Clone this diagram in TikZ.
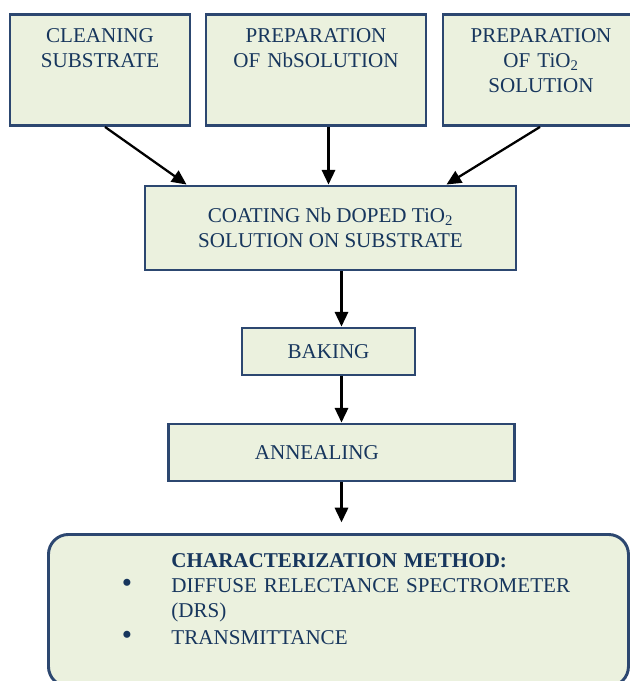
\documentclass[tikz,border=0pt]{standalone}
\usepackage{fontspec}
\setmainfont{Liberation Serif}
\usetikzlibrary{arrows.meta,calc}
\definecolor{boxfill}{HTML}{EBF1DE}
\definecolor{boxline}{HTML}{2C4770}
\definecolor{boxtext}{HTML}{17365D}

\tikzset{
  stepbox/.style={draw=boxline, line width=2.2pt, fill=boxfill, text=boxtext,
    font=\fontsize{15.8}{18.75}\selectfont, align=center, inner sep=0pt},
  topbox/.style={stepbox, anchor=north, inner ysep=4pt, text height=17pt, text depth=58.25pt},
  flow/.style={-{Triangle[length=11pt,width=10pt]}, line width=1.7pt}
}
\newcommand{\bigdot}{{\fontsize{22}{0}\selectfont\textbullet}}

\begin{document}
\begin{tikzpicture}[x=0.75pt,y=-0.75pt]
  \useasboundingbox (0,0) rectangle (630,681);
  \clip (0,0) rectangle (630,681);

  \node[topbox, text width=135pt] (clean) at (100,13) {CLEANING\\SUBSTRATE};
  \node[topbox, text width=165pt] (prepnb) at (316,13) {PREPARATION\\OF NbSOLUTION};
  \node[topbox, text width=147pt] (preptio) at (541,13) {PREPARATION\\OF TiO\textsubscript{2}\\SOLUTION};

  \node[stepbox, minimum width=278.25pt, minimum height=63pt] (coat) at (330.5,228)
    {COATING Nb DOPED TiO\textsubscript{2}\\SOLUTION ON SUBSTRATE};
  \node[stepbox, minimum width=129.75pt, minimum height=35.25pt] (bake) at (328.5,351.5) {BAKING};
  \node[stepbox, text width=130pt, inner xsep=65pt, align=left, minimum height=42.75pt] (anneal)
    at (341.5,452.5) {ANNEALING};

  \node[stepbox, anchor=north west, rounded corners=15pt, text width=395pt, inner xsep=20pt,
    inner ysep=12pt, text height=12.6pt, text depth=77.4pt, align=left] (charac) at (47,533)
    {\begin{tabular}[t]{@{\hspace{35pt}}p{37.25pt}@{}l@{}}
       & \textbf{CHARACTERIZATION METHOD:}\\
     \bigdot & DIFFUSE RELECTANCE SPECTROMETER\\
       & (DRS)\\[2pt]
     \bigdot & TRANSMITTANCE
     \end{tabular}};

  \draw[flow] ($(clean.south)+(5,0)$) -- ($(coat.north west)+(43,0)$);
  \draw[flow] (prepnb.south -| bake) -- (coat.north -| bake);
  \draw[flow] ($(preptio.south)+(-1,0)$) -- ($(coat.north east)+(-71,0)$);
  \draw[flow] (coat.south -| anneal) -- (bake.north -| anneal);
  \draw[flow] (bake.south -| anneal) -- (anneal.north);
  \draw[flow, shorten >=8pt] (anneal.south) -- (anneal.south |- charac.north);
\end{tikzpicture}
\end{document}
